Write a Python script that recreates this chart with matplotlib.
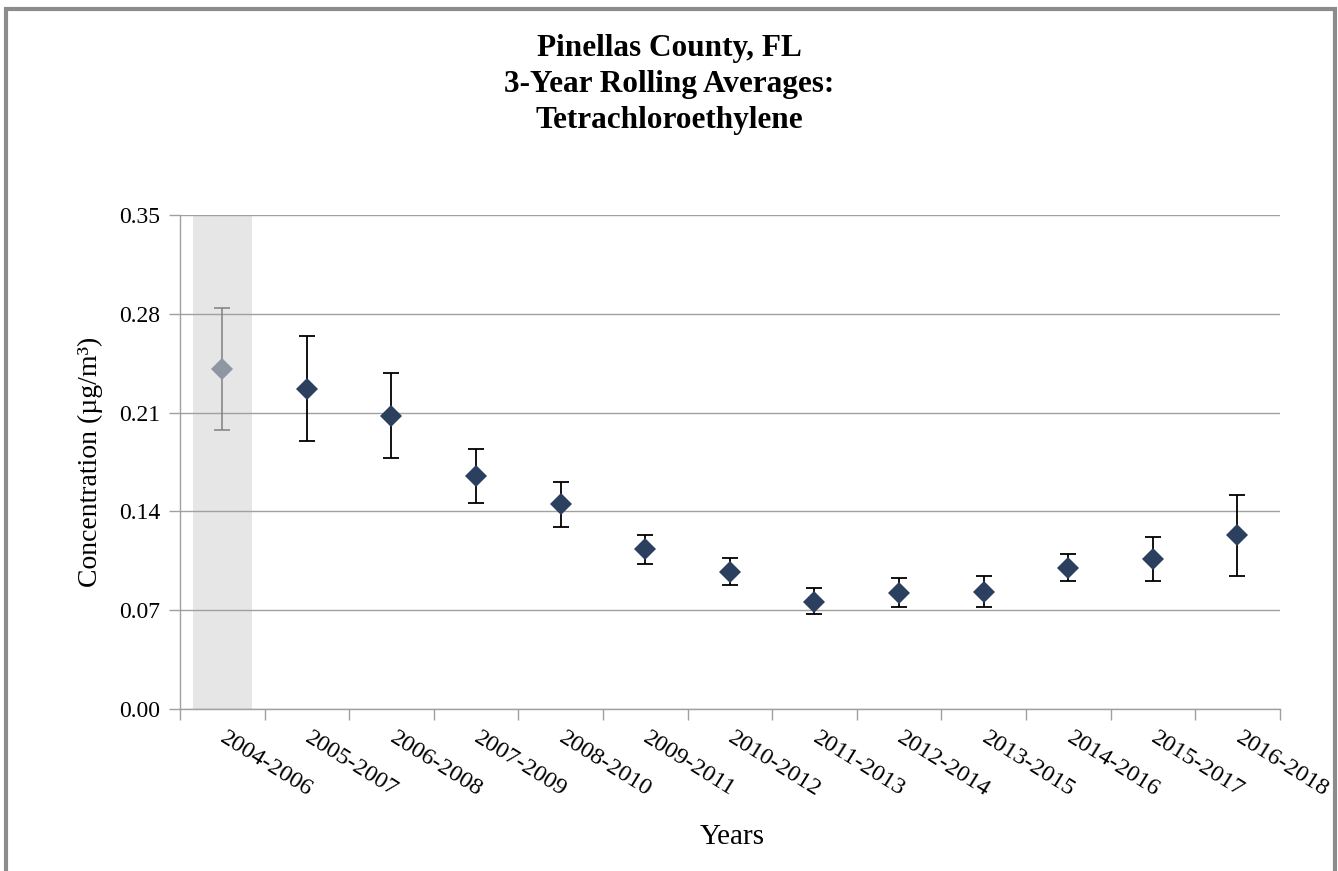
#!/usr/bin/env python3
"""Pinellas County PCE 3-year rolling averages with error bars."""

import matplotlib.pyplot as plt
import numpy as np
from matplotlib.patches import Rectangle

PERIODS = [
    "2004-2006", "2005-2007", "2006-2008", "2007-2009", "2008-2010",
    "2009-2011", "2010-2012", "2011-2013", "2012-2014", "2013-2015",
    "2014-2016", "2015-2017", "2016-2018",
]
MEANS = [0.241, 0.227, 0.208, 0.165, 0.145, 0.1135, 0.097, 0.076,
         0.0825, 0.083, 0.100, 0.106, 0.123]
UPPER = [0.284, 0.264, 0.238, 0.184, 0.161, 0.123, 0.107, 0.0857,
         0.093, 0.0945, 0.1095, 0.122, 0.152]
LOWER = [0.198, 0.190, 0.178, 0.146, 0.129, 0.103, 0.0876, 0.0674,
         0.072, 0.072, 0.0905, 0.0905, 0.094]
Y_TICKS = [0.00, 0.07, 0.14, 0.21, 0.28, 0.35]

MARKER_COLOR = "#2b3f5f"
MARKER_GREY = "#8e96a3"
GRID_COLOR = "#a0a0a0"
SHADE_COLOR = "#e6e6e6"

plt.rcParams["font.family"] = ["Liberation Serif", "DejaVu Serif"]

fig = plt.figure(figsize=(13.38, 8.71), dpi=100)
ax = fig.add_axes([0.1345, 0.186, 0.822, 0.567])

x = np.arange(len(PERIODS))
means = np.array(MEANS)
yerr = np.vstack([means - np.array(LOWER), np.array(UPPER) - means])

# shaded first period (incomplete data)
ax.axvspan(-0.35, 0.35, color=SHADE_COLOR, zorder=0, lw=0)

ax.errorbar(x[:1], means[:1], yerr=yerr[:, :1], fmt="none",
            ecolor="#808080", elinewidth=1.1, capsize=6, capthick=1.1, zorder=2)
ax.errorbar(x[1:], means[1:], yerr=yerr[:, 1:], fmt="none",
            ecolor="black", elinewidth=1.3, capsize=6, capthick=1.3, zorder=2)
ax.plot(x[:1], means[:1], "D", color=MARKER_GREY, markersize=11,
        markeredgewidth=0, zorder=3)
ax.plot(x[1:], means[1:], "D", color=MARKER_COLOR, markersize=11,
        markeredgewidth=0, zorder=3)

ax.set_xlim(-0.5, len(PERIODS) - 0.5)
ax.set_ylim(0, 0.35)
ax.set_yticks(Y_TICKS)
ax.set_yticklabels([f"{v:.2f}" for v in Y_TICKS], fontsize=17)
ax.yaxis.grid(True, color=GRID_COLOR, linewidth=1.0)
ax.set_axisbelow(True)

ax.set_xticks(np.arange(len(PERIODS) + 1) - 0.5)
ax.set_xticklabels([])
ax.set_xticks(x, minor=True)
ax.set_xticklabels(PERIODS, minor=True, rotation=-32, ha="left", va="center",
                   rotation_mode="anchor", fontsize=17.5)
ax.tick_params(axis="x", which="major", length=8, color=GRID_COLOR, width=1.0)
ax.tick_params(axis="x", which="minor", length=0, pad=20)
ax.tick_params(axis="y", length=8, color=GRID_COLOR, width=1.0, pad=6)

for side in ("top", "right"):
    ax.spines[side].set_visible(False)
for side in ("left", "bottom"):
    ax.spines[side].set_color(GRID_COLOR)
    ax.spines[side].set_linewidth(1.0)

ax.set_ylabel("Concentration (µg/m³)", fontsize=20, labelpad=12)
fig.text(0.547, 0.039, "Years", fontsize=21, ha="center", va="center")

fig.text(0.5, 0.903, "Pinellas County, FL\n3-Year Rolling Averages:\nTetrachloroethylene",
         ha="center", va="center", fontsize=22.5, fontweight="bold", linespacing=1.3)

# outer chart frame
fig.patches.append(Rectangle((0.0045, -0.05), 0.9935, 1.04, transform=fig.transFigure,
                             fill=False, edgecolor="#8c8c8c", linewidth=3.0))

fig.savefig("out.png", dpi=100)
